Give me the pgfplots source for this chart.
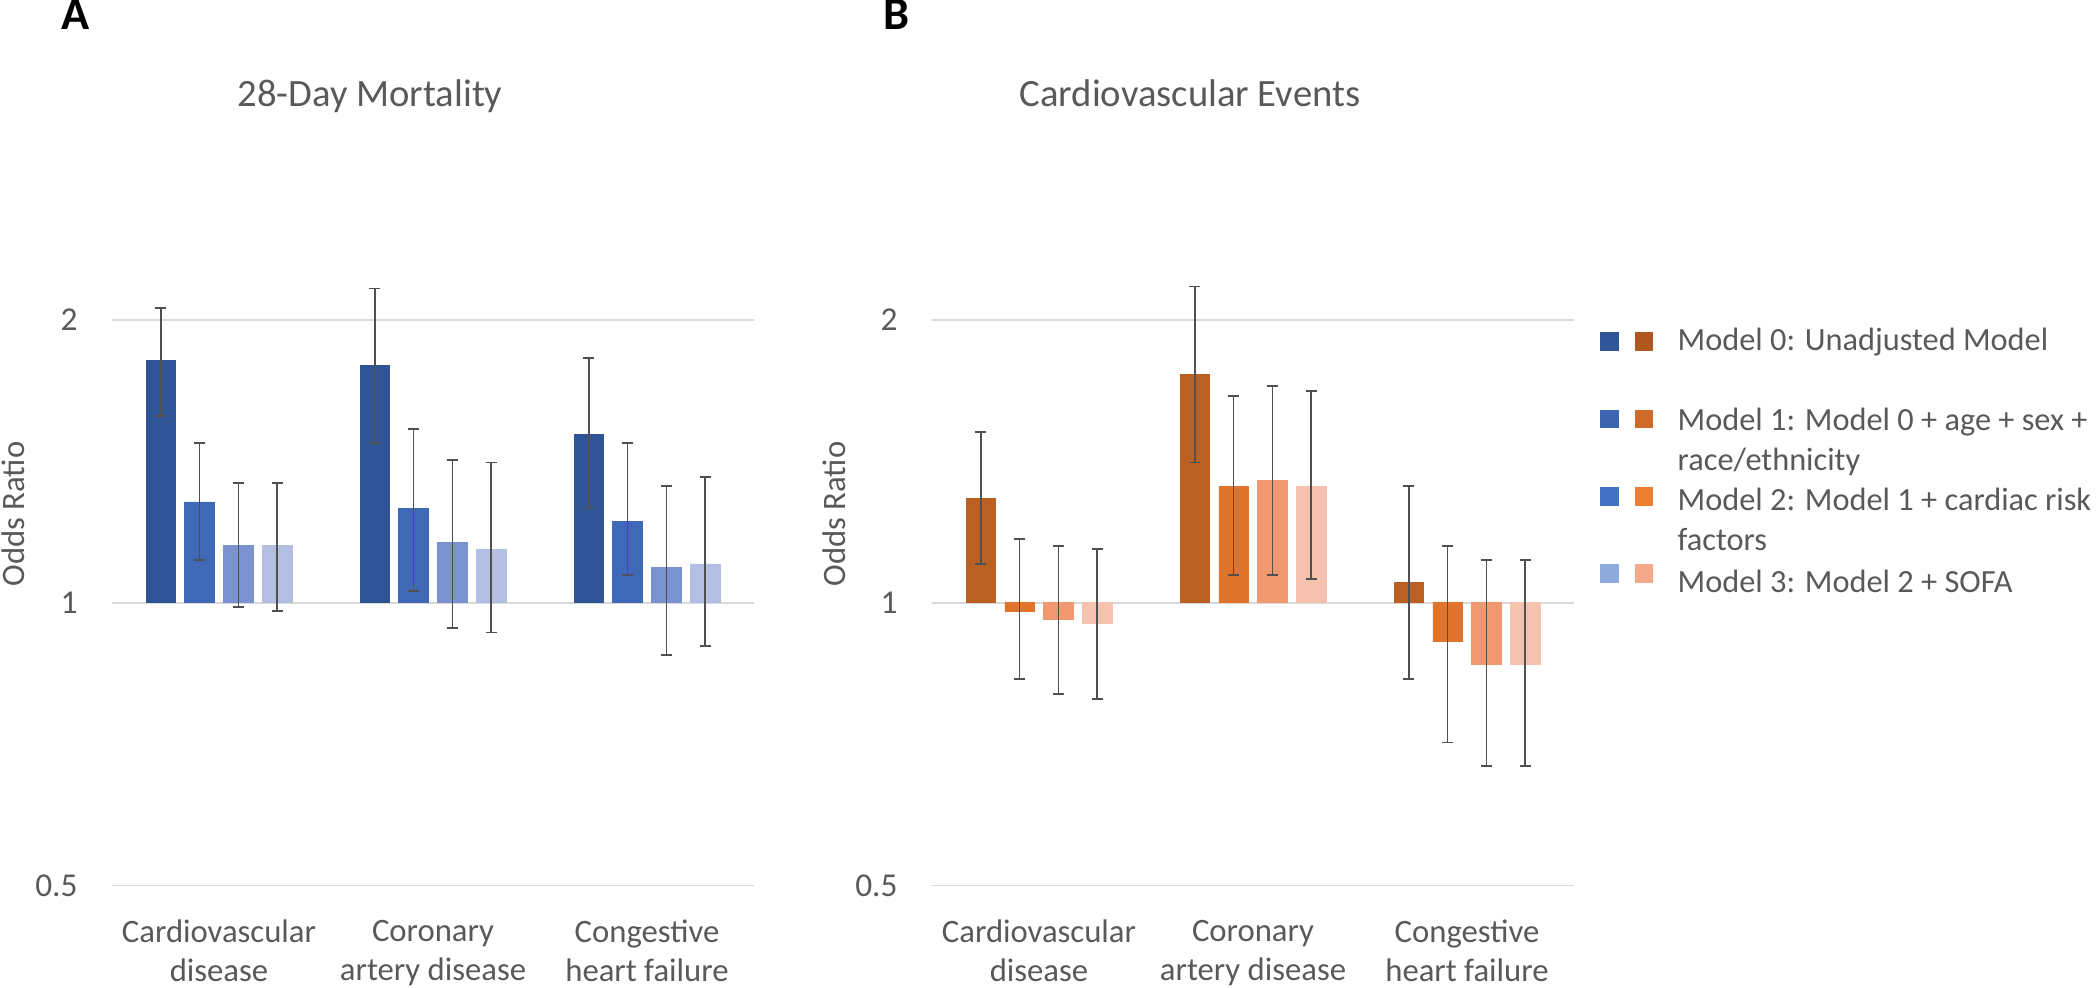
\documentclass[border=0pt]{standalone}
\usepackage{pgfplots}
\pgfplotsset{compat=1.18}
\usepackage{pgfplotstable}
\usepackage{fontspec}
\setmainfont{Carlito}
\definecolor{txt}{HTML}{595959}
\definecolor{grd}{HTML}{D9D9D9}
\definecolor{ebar}{HTML}{505050}
\definecolor{bA0}{HTML}{2F5597}
\definecolor{bA1}{HTML}{3F68B6}
\definecolor{bA2}{HTML}{7A92D0}
\definecolor{bA3}{HTML}{B3BEE1}
\definecolor{oB0}{HTML}{B96022}
\definecolor{oB1}{HTML}{E0742B}
\definecolor{oB2}{HTML}{F09870}
\definecolor{oB3}{HTML}{F6C2B0}
\definecolor{lA0}{HTML}{2F5597}
\definecolor{lA1}{HTML}{3C64AF}
\definecolor{lA2}{HTML}{4472C4}
\definecolor{lA3}{HTML}{8FAADC}
\definecolor{lB0}{HTML}{B0561F}
\definecolor{lB1}{HTML}{CF6A2A}
\definecolor{lB2}{HTML}{ED7D31}
\definecolor{lB3}{HTML}{F4A98A}

\pgfplotstableread{
x m0 m0lo m0hi m1 m1lo m1hi m2 m2lo m2hi m3 m3lo m3hi
0 1.81 1.58 2.06 1.28 1.11 1.48 1.15 0.99 1.34 1.15 0.98 1.34
1 1.79 1.48 2.16 1.26 1.03 1.53 1.16 0.94 1.42 1.14 0.93 1.41
2 1.51 1.26 1.82 1.22 1.07 1.48 1.09 0.88 1.33 1.10 0.90 1.36
}\mortality

\pgfplotstableread{
x m0 m0lo m0hi m1 m1lo m1hi m2 m2lo m2hi m3 m3lo m3hi
0 1.29 1.10 1.52 0.98 0.83 1.17 0.96 0.80 1.15 0.95 0.79 1.14
1 1.75 1.41 2.17 1.33 1.07 1.66 1.35 1.07 1.70 1.33 1.06 1.68
2 1.05 0.83 1.33 0.91 0.71 1.15 0.86 0.67 1.11 0.86 0.67 1.11
}\cvevents

\newcommand{\series}[4]{%
  \addplot[fill=#3, draw=#3, line width=0.2pt, bar shift=#4,
    error bars/y dir=both, error bars/y explicit,
    error bars/error mark=-,
    error bars/error bar style={draw=ebar, line width=0.5pt, solid},
    error bars/error mark options={draw=ebar, line width=0.5pt, mark size=0.55mm, rotate=90}]
    table[x=x, y=#2,
    y error plus expr=\thisrow{#2hi}-\thisrow{#2},
    y error minus expr=\thisrow{#2}-\thisrow{#2lo}] {#1};}

\begin{document}
\begin{tikzpicture}
\useasboundingbox (0,0) rectangle (210mm,98.8mm);

\begin{axis}[at={(11.2mm,10.23mm)}, anchor=south west,
    scale only axis, width=64.2mm, height=74.34mm,
    ymode=log, log basis y=2, ymin=0.5, ymax=3.09,
    xmin=-0.5, xmax=2.5,
    ytick={0.5,1,2}, yticklabels={0.5,1,2},
    xtick={0,1,2},
    xticklabels={Cardiovascular\\disease, Coronary\\artery disease, Congestive\\heart failure},
    ymajorgrids, grid style={grd, line width=0.45pt},
    axis line style={draw=none}, major tick length=0pt,
    ybar, bar width=2.95mm,
    yticklabel style={font=\fontsize{9.5}{11}\selectfont, text=txt, xshift=-2.2mm},
    xticklabel style={font=\fontsize{9.3}{11.1}\selectfont, text=txt, align=center, yshift=-2.2mm},
    ylabel={Odds Ratio},
    every axis y label/.style={at={(axis description cs:-0.153,0.5)}, rotate=90, anchor=center, font=\fontsize{9.3}{11}\selectfont, text=txt},
  ]
\series{\mortality}{m0}{bA0}{-5.82mm}
\series{\mortality}{m1}{bA1}{-1.94mm}
\series{\mortality}{m2}{bA2}{1.94mm}
\series{\mortality}{m3}{bA3}{5.82mm}
\end{axis}

\begin{axis}[at={(93.2mm,10.23mm)}, anchor=south west,
    scale only axis, width=64.2mm, height=74.34mm,
    ymode=log, log basis y=2, ymin=0.5, ymax=3.09,
    xmin=-0.5, xmax=2.5,
    ytick={0.5,1,2}, yticklabels={0.5,1,2},
    xtick={0,1,2},
    xticklabels={Cardiovascular\\disease, Coronary\\artery disease, Congestive\\heart failure},
    ymajorgrids, grid style={grd, line width=0.45pt},
    axis line style={draw=none}, major tick length=0pt,
    ybar, bar width=2.95mm,
    yticklabel style={font=\fontsize{9.5}{11}\selectfont, text=txt, xshift=-2.2mm},
    xticklabel style={font=\fontsize{9.3}{11.1}\selectfont, text=txt, align=center, yshift=-2.2mm},
    ylabel={Odds Ratio},
    every axis y label/.style={at={(axis description cs:-0.153,0.5)}, rotate=90, anchor=center, font=\fontsize{9.3}{11}\selectfont, text=txt},
  ]
\series{\cvevents}{m0}{oB0}{-5.82mm}
\series{\cvevents}{m1}{oB1}{-1.94mm}
\series{\cvevents}{m2}{oB2}{1.94mm}
\series{\cvevents}{m3}{oB3}{5.82mm}
\end{axis}

% panel letters and titles
\node[anchor=base west, inner sep=0, font=\fontsize{13.2}{14}\selectfont\bfseries] at (6.1mm,95.8mm) {A};
\node[anchor=base west, inner sep=0, font=\fontsize{13.2}{14}\selectfont\bfseries] at (88.3mm,95.8mm) {B};
\node[anchor=base, inner sep=0, text=txt, font=\fontsize{11}{13}\selectfont] at (37.0mm,88.1mm) {28-Day Mortality};
\node[anchor=base, inner sep=0, text=txt, font=\fontsize{11}{13}\selectfont] at (119.0mm,88.1mm) {Cardiovascular Events};

% legend
\fill[lA0] (160.0mm,63.7mm) rectangle (161.85mm,65.6mm);
\fill[lB0] (163.47mm,63.7mm) rectangle (165.3mm,65.6mm);
\fill[lA1] (160.0mm,56.0mm) rectangle (161.85mm,57.8mm);
\fill[lB1] (163.47mm,56.0mm) rectangle (165.3mm,57.8mm);
\fill[lA2] (160.0mm,48.2mm) rectangle (161.85mm,50.1mm);
\fill[lB2] (163.47mm,48.2mm) rectangle (165.3mm,50.1mm);
\fill[lA3] (160.0mm,40.5mm) rectangle (161.85mm,42.4mm);
\fill[lB3] (163.47mm,40.5mm) rectangle (165.3mm,42.4mm);
\begin{scope}[every node/.style={anchor=base west, inner sep=0, text=txt, font=\fontsize{9.2}{11}\selectfont}]
\node at (167.7mm,63.7mm) {Model 0: Unadjusted Model};
\node at (167.7mm,55.7mm) {Model 1: Model 0 + age + sex +};
\node at (167.7mm,51.7mm) {race/ethnicity};
\node at (167.7mm,47.7mm) {Model 2: Model 1 + cardiac risk};
\node at (167.7mm,43.7mm) {factors};
\node at (167.7mm,39.5mm) {Model 3: Model 2 + SOFA};
\end{scope}
\end{tikzpicture}
\end{document}
